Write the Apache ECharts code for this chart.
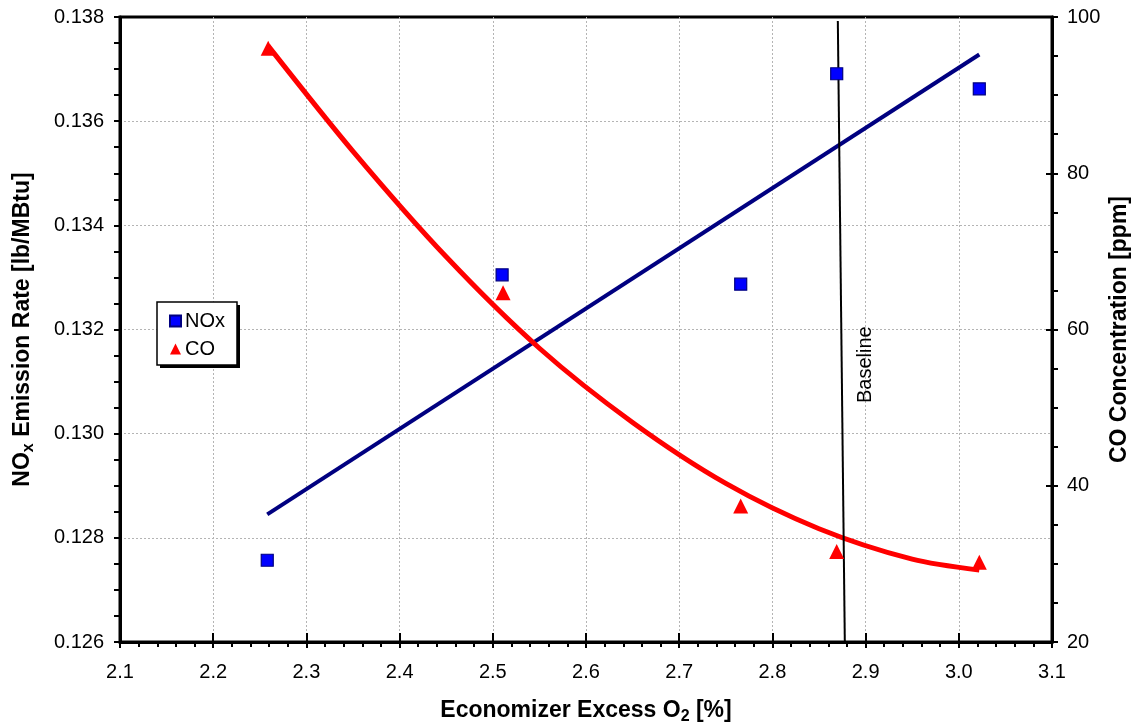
<!DOCTYPE html>
<html>
<head>
<meta charset="utf-8">
<script src="https://cdn.jsdelivr.net/npm/echarts@6/dist/echarts.min.js"></script>
<style>
  html, body { margin: 0; padding: 0; background: #fff; overflow: hidden; }
  #chart { width: 1133px; height: 727px; }
</style>
</head>
<body>
<div id="chart"></div>
<script>
// Measured NOx emission rate vs. economizer excess O2
const noxO2 = [2.258, 2.510, 2.766, 2.869, 3.022];
const noxRate = [0.12757, 0.13305, 0.13287, 0.13691, 0.13662];

// Measured CO concentration vs. economizer excess O2
const coO2 = [2.259, 2.511, 2.766, 2.869, 3.022];
const coPpm = [96.0, 64.7, 37.4, 31.6, 30.2];

// Linear trend of NOx (end points)
const noxTrendO2 = [2.258, 3.022];
const noxTrendRate = [0.12845, 0.13728];

// Curved trend of CO
const coTrendO2 = [2.259, 2.35, 2.45, 2.55, 2.65, 2.75, 2.85, 2.95, 3.022];
const coTrendPpm = [96.3, 82.8, 69.3, 57.6, 48.1, 40.3, 34.5, 30.6, 29.2];

// Near-vertical baseline marker
const baselineO2 = [2.8702, 2.8777];
const baselinePpm = [99.5, 20];

const pairs = (xs, ys) => xs.map((x, i) => [x, ys[i]]);

const FONT = 'Arial, "Liberation Sans", sans-serif';
const gridColor = '#b4b4b4';
const black = '#000';

// Legend frame (left, top, width, height)
const LEG = { x: 157, y: 302, w: 80, h: 63 };

const chart = echarts.init(document.getElementById('chart'), null, { renderer: 'canvas' });

const titleRich = {
  t: { fontSize: 23, fontWeight: 'bold', fontFamily: FONT, color: black, lineHeight: 28 },
  s: { fontSize: 16, fontWeight: 'bold', fontFamily: FONT, color: black, lineHeight: 15, verticalAlign: 'bottom' }
};

// Shared styling for the tick marks and dashed grid
const tickStyle = { color: black, width: 2 };
const dashedGrid = {
  show: true, showMinLine: false, showMaxLine: false,
  lineStyle: { color: gridColor, width: 1, type: [2, 2] }
};

chart.setOption({
  animation: false,
  backgroundColor: '#fff',
  grid: {
    left: 120, right: 81, top: 17, bottom: 85,
    outerBoundsMode: 'none',
    containLabel: false,
    show: true, borderColor: black, borderWidth: 3, backgroundColor: 'transparent'
  },
  legend: {
    orient: 'vertical',
    left: LEG.x + 12, top: LEG.y + 9,
    padding: 0,
    itemGap: 8,
    itemWidth: 11, itemHeight: 11,
    textStyle: { fontSize: 20, fontFamily: FONT, color: black, padding: [0, 0, 0, -1] },
    data: [{ name: 'NOx', icon: 'rect' }, { name: 'CO', icon: 'triangle' }],
    z: 6
  },
  xAxis: [
    {
      type: 'value',
      min: 2.1, max: 3.1, interval: 0.1,
      name: '{t|Economizer Excess O}{s|2}{t| [%]}',
      nameLocation: 'middle',
      nameGap: 55,
      nameMoveOverlap: false,
      nameTextStyle: { rich: titleRich },
      axisLine: { onZero: false, lineStyle: { color: black, width: 3 } },
      axisTick: { show: true, length: 6, lineStyle: tickStyle },
      minorTick: { show: true, splitNumber: 5, length: 5, lineStyle: tickStyle },
      axisLabel: {
        fontSize: 20, fontFamily: FONT, color: black, margin: 20,
        formatter: v => v.toFixed(1)
      },
      splitLine: dashedGrid
    },
    {
      // inner half of the major ticks on the O2 axis
      type: 'value',
      position: 'bottom',
      min: 2.1, max: 3.1, interval: 0.1,
      axisLine: { show: false, onZero: false },
      axisTick: { show: true, inside: true, length: 9, lineStyle: tickStyle },
      axisLabel: { show: false },
      splitLine: { show: false }
    }
  ],
  yAxis: [
    {
      type: 'value',
      position: 'left',
      min: 0.126, max: 0.138, interval: 0.002,
      name: '{t|NO}{s|x}{t| Emission Rate [lb/MBtu]}',
      nameLocation: 'middle',
      nameRotate: 90,
      nameGap: 83,
      nameMoveOverlap: false,
      nameTextStyle: { rich: titleRich },
      axisLine: { show: true, onZero: false, lineStyle: { color: black, width: 3 } },
      axisTick: { show: true, length: 6, lineStyle: tickStyle },
      minorTick: { show: true, splitNumber: 4, length: 6, lineStyle: tickStyle },
      axisLabel: {
        fontSize: 20, fontFamily: FONT, color: black, margin: 16,
        formatter: v => v.toFixed(3)
      },
      splitLine: dashedGrid
    },
    {
      type: 'value',
      position: 'right',
      min: 20, max: 100, interval: 20,
      name: 'CO Concentration [ppm]',
      nameLocation: 'middle',
      nameRotate: 90,
      nameGap: 54,
      nameMoveOverlap: false,
      nameTextStyle: { fontSize: 23, fontWeight: 'bold', fontFamily: FONT, color: black, lineHeight: 28 },
      axisLine: { show: true, onZero: false, lineStyle: { color: black, width: 3 } },
      axisTick: { show: true, length: 6, lineStyle: tickStyle },
      minorTick: { show: true, splitNumber: 4, length: 6, lineStyle: tickStyle },
      axisLabel: { fontSize: 20, fontFamily: FONT, color: black, margin: 15 },
      splitLine: { show: false }
    },
    {
      // inner half of the major ticks on the CO axis
      type: 'value',
      position: 'right',
      min: 20, max: 100, interval: 20,
      axisLine: { show: false, onZero: false },
      axisTick: { show: true, inside: true, length: 6, lineStyle: tickStyle },
      axisLabel: { show: false },
      splitLine: { show: false }
    }
  ],
  series: [
    {
      name: 'NOx trend',
      type: 'line',
      yAxisIndex: 0,
      data: pairs(noxTrendO2, noxTrendRate),
      symbol: 'none',
      lineStyle: { color: '#000080', width: 4 },
      z: 3
    },
    {
      name: 'CO trend',
      type: 'line',
      yAxisIndex: 1,
      data: pairs(coTrendO2, coTrendPpm),
      smooth: 0.3,
      symbol: 'none',
      lineStyle: { color: '#ff0000', width: 5 },
      z: 3
    },
    {
      name: 'Baseline',
      type: 'line',
      yAxisIndex: 1,
      data: pairs(baselineO2, baselinePpm),
      symbol: 'none',
      lineStyle: { color: black, width: 2 },
      z: 4
    },
    {
      name: 'NOx',
      type: 'scatter',
      yAxisIndex: 0,
      data: pairs(noxO2, noxRate),
      symbol: 'rect',
      symbolSize: 12,
      itemStyle: { color: '#0000ff', borderColor: '#000080', borderWidth: 1.2, opacity: 1 },
      z: 5
    },
    {
      name: 'CO',
      type: 'scatter',
      yAxisIndex: 1,
      data: pairs(coO2, coPpm),
      symbol: 'triangle',
      symbolSize: 15,
      itemStyle: { color: '#ff0000', opacity: 1 },
      z: 5
    }
  ]
});

// Legend frame with its drop shadow, and the "Baseline" caption beside the baseline marker
const labelPos = chart.convertToPixel({ xAxisIndex: 0, yAxisIndex: 1 }, [2.9, 55.5]);
chart.setOption({
  graphic: [
    {
      id: 'legendShadow',
      type: 'rect',
      shape: { x: LEG.x + 3, y: LEG.y + 3, width: LEG.w, height: LEG.h },
      style: { fill: black },
      z: 5
    },
    {
      id: 'legendFrame',
      type: 'rect',
      shape: { x: LEG.x, y: LEG.y, width: LEG.w, height: LEG.h },
      style: { fill: '#fff', stroke: black, lineWidth: 1.5 },
      z: 5
    },
    {
      id: 'baselineCaption',
      type: 'text',
      x: labelPos[0], y: labelPos[1],
      rotation: Math.PI / 2,
      style: {
        text: 'Baseline',
        fontSize: 20, fontFamily: FONT, fill: black,
        align: 'center', verticalAlign: 'middle'
      },
      z: 10
    }
  ]
});
</script>
</body>
</html>
